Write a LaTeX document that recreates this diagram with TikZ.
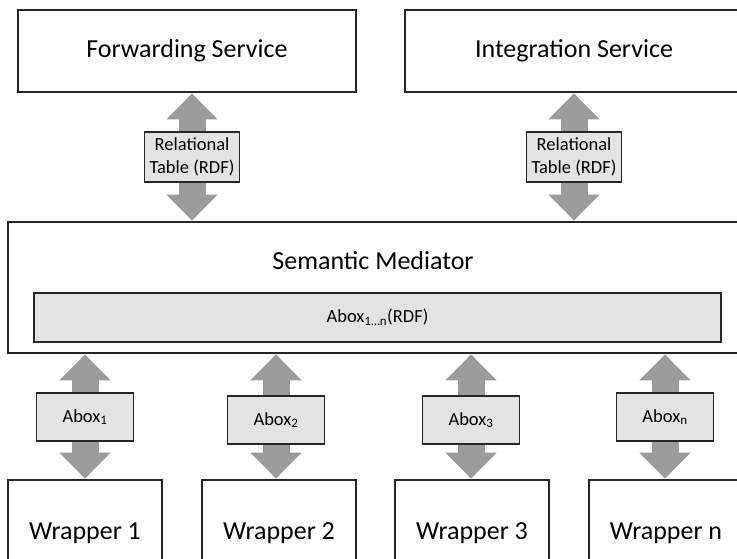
\documentclass[tikz,border=0pt]{standalone}
\usepackage{fontspec}
\setmainfont{Carlito}
\usetikzlibrary{arrows.meta}
\definecolor{arrowgray}{RGB}{155,155,155}
\definecolor{boxgray}{RGB}{227,227,227}
\definecolor{linegray}{RGB}{38,38,38}
\tikzstyle{bigbox} = [draw=linegray, line width=1.4pt, fill=white, inner sep=0pt, font=\fontsize{26}{31}\selectfont]
\tikzstyle{smallbox} = [draw=linegray, line width=1.4pt, fill=boxgray, inner sep=0pt, align=center, minimum width=95pt, font=\fontsize{18.5}{22.5}\selectfont]
\tikzstyle{fatarrow} = [color=arrowgray, line width=27pt, shorten <=0.7pt, shorten >=0.7pt, -{Triangle[width=50pt,length=26pt]}]

\begin{document}
\begin{tikzpicture}[x=1pt,y=-1pt]
\useasboundingbox (0,0) rectangle (737,559);
\clip (0,0) rectangle (737,559);
\node[bigbox, minimum width=338pt, minimum height=82pt] (fwd) at (187,51) {Forwarding Service};
\node[bigbox, minimum width=338pt, minimum height=82pt] (integ) at (574,51) {Integration Service};
\node[bigbox, minimum width=730pt, minimum height=131pt] (med) at (373,287.5) {};
\node[font=\fontsize{26}{31}\selectfont] (medtext) at (373,261) {Semantic Mediator};
\node[smallbox, minimum width=687pt, minimum height=49pt] (aboxall) at (377.5,317.5) {Abox\textsubscript{1…n}(RDF)};
\node[smallbox, minimum height=50pt] (rel1) at (192,157) {Relational\\Table (RDF)};
\node[smallbox, minimum height=50pt] (rel2) at (574,157) {Relational\\Table (RDF)};
\node[smallbox, minimum width=97pt, minimum height=48pt] (abox1) at (85,417) {Abox\textsubscript{1}};
\node[smallbox, minimum width=97pt, minimum height=48pt] (abox2) at (276,420) {Abox\textsubscript{2}};
\node[smallbox, minimum width=97pt, minimum height=48pt] (abox3) at (471,420) {Abox\textsubscript{3}};
\node[smallbox, minimum width=97pt, minimum height=48pt] (aboxn) at (665,417) {Abox\textsubscript{n}};
\node[bigbox, minimum width=154pt, minimum height=106pt] (wrap1) at (85,533) {Wrapper 1};
\node[bigbox, minimum width=154pt, minimum height=106pt] (wrap2) at (279,533) {Wrapper 2};
\node[bigbox, minimum width=154pt, minimum height=106pt] (wrap3) at (472,533) {Wrapper 3};
\node[bigbox, minimum width=154pt, minimum height=106pt] (wrapn) at (666,533) {Wrapper n};
\draw[fatarrow] (rel1.north) -- (rel1.north |- fwd.south);
\draw[fatarrow] (rel1.south) -- (rel1.south |- med.north);
\draw[fatarrow] (rel2.north) -- (rel2.north |- integ.south);
\draw[fatarrow] (rel2.south) -- (rel2.south |- med.north);
\draw[fatarrow] (abox1.north) -- (abox1.north |- med.south);
\draw[fatarrow] (abox1.south) -- (abox1.south |- wrap1.north);
\draw[fatarrow] (abox2.north) -- (abox2.north |- med.south);
\draw[fatarrow] (abox2.south) -- (abox2.south |- wrap2.north);
\draw[fatarrow] (abox3.north) -- (abox3.north |- med.south);
\draw[fatarrow] (abox3.south) -- (abox3.south |- wrap3.north);
\draw[fatarrow] (aboxn.north) -- (aboxn.north |- med.south);
\draw[fatarrow] (aboxn.south) -- (aboxn.south |- wrapn.north);
\end{tikzpicture}
\end{document}
